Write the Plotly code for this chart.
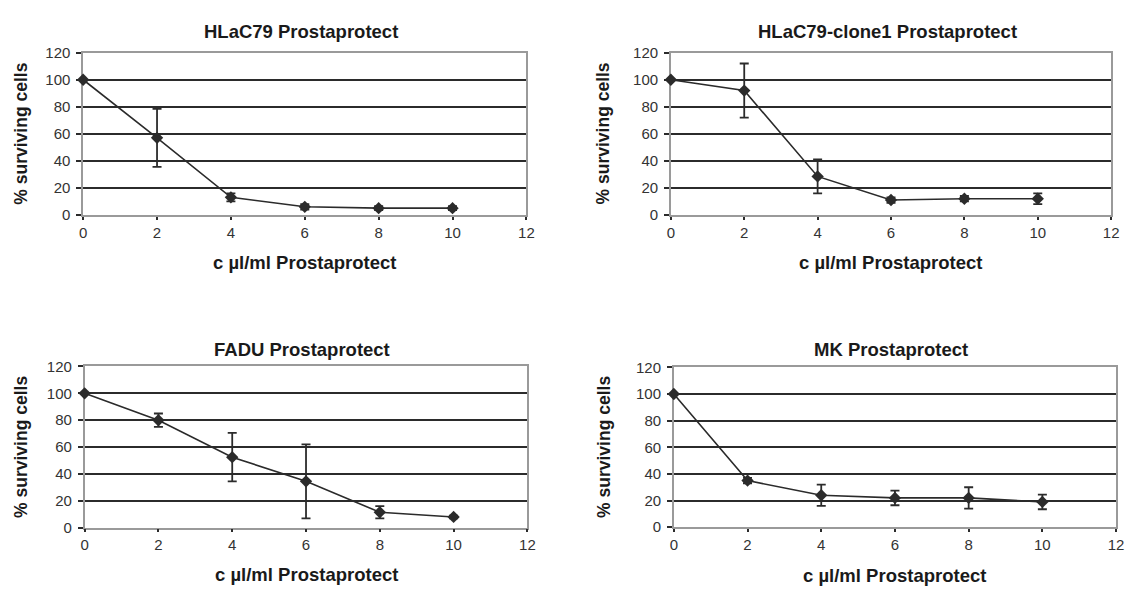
import plotly.graph_objects as go

W, H = 1132, 593

conc = [0, 2, 4, 6, 8, 10]

titles = ["HLaC79 Prostaprotect", "HLaC79-clone1 Prostaprotect",
          "FADU Prostaprotect", "MK Prostaprotect"]

hlac79 = [100, 57, 13, 6, 5, 5]
hlac79_err = [0, 21.5, 3, 2, 1.5, 1.5]

clone1 = [100, 92, 28.5, 11, 12, 12]
clone1_err = [0, 20, 12.5, 2, 2, 4]

fadu = [100, 80, 52.5, 34.5, 11.5, 8]
fadu_err = [0, 5, 18, 27.5, 4.5, 1]

mk = [100, 35, 24, 22, 22, 19]
mk_err = [0, 2, 8, 5.5, 8, 5.5]

series = [(hlac79, hlac79_err), (clone1, clone1_err), (fadu, fadu_err), (mk, mk_err)]

x_label = "c µl/ml Prostaprotect"
y_label = "% surviving cells"

# plot areas in pixels: (left, right, top, bottom)
boxes = [(80, 528, 45, 212), (674, 1119, 45, 212),
         (81.5, 529, 368, 534), (677, 1124, 369, 533.5)]
title_y = [23.5, 23.5, 351, 351]
xtitle_y = [261, 261, 582, 583]
ytitle_x = [17, 605, 17, 607]

FONT = "Liberation Sans, Arial, sans-serif"
DARK = "#2b2b2b"

fig = go.Figure()
for i, ((ys, es), box) in enumerate(zip(series, boxes)):
    n = "" if i == 0 else str(i + 1)
    fig.add_trace(go.Scatter(
        x=conc, y=ys, mode="lines+markers",
        xaxis="x" + n, yaxis="y" + n,
        line=dict(color=DARK, width=1.6),
        marker=dict(symbol="diamond", size=9.5, color=DARK),
        error_y=dict(type="data", array=es, visible=True, color=DARK,
                     thickness=1.8, width=4.5),
        cliponaxis=False, showlegend=False,
    ))
    l, r, t, b = box
    xd = [l / W, r / W]
    yd = [1 - b / H, 1 - t / H]
    fig.update_layout(**{
        "xaxis" + n: dict(domain=xd, range=[0, 12], dtick=2, tick0=0,
                          showgrid=False, showline=True, mirror=True,
                          linecolor="#9a9a9a", linewidth=1.5,
                          zeroline=True, zerolinecolor=DARK, zerolinewidth=2,
                          ticks="outside", ticklen=3, tickwidth=1.5, tickcolor=DARK,
                          tickfont=dict(family=FONT, size=15, color="#333333"),
                          layer="below traces",
                          anchor="y" + n, fixedrange=True),
        "yaxis" + n: dict(domain=yd, range=[0, 120], dtick=20, tick0=0,
                          showgrid=True, gridcolor=DARK, gridwidth=2,
                          showline=True, mirror=True,
                          linecolor="#9a9a9a", linewidth=1.5,
                          zeroline=True, zerolinecolor=DARK, zerolinewidth=2,
                          ticks="outside", ticklen=5, tickwidth=1.5, tickcolor=DARK,
                          ticklabelstandoff=3,
                          tickfont=dict(family=FONT, size=15, color="#333333"),
                          layer="below traces",
                          anchor="x" + n, fixedrange=True),
    })
    cx = (l + r) / 2 / W
    fig.add_annotation(x=cx - 4 / W, y=1 - title_y[i] / H, xref="paper", yref="paper",
                       text="<b>" + titles[i] + "</b>", showarrow=False,
                       xanchor="center", yanchor="middle",
                       font=dict(family=FONT, size=18.5, color="#1a1a1a"))
    fig.add_annotation(x=cx, y=1 - xtitle_y[i] / H, xref="paper", yref="paper",
                       text="<b>" + x_label + "</b>", showarrow=False,
                       xanchor="center", yanchor="middle",
                       font=dict(family=FONT, size=18.5, color="#1a1a1a"))
    fig.add_annotation(x=ytitle_x[i] / W, y=1 - (t + b) / 2 / H, xref="paper", yref="paper",
                       text="<b>" + y_label + "</b>", showarrow=False, textangle=-90,
                       xanchor="center", yanchor="middle",
                       font=dict(family=FONT, size=17.5, color="#1a1a1a"))

fig.update_layout(width=W, height=H, margin=dict(l=0, r=0, t=0, b=0),
                  paper_bgcolor="white", plot_bgcolor="white")

fig.write_html("out.html", config={"displayModeBar": False})
